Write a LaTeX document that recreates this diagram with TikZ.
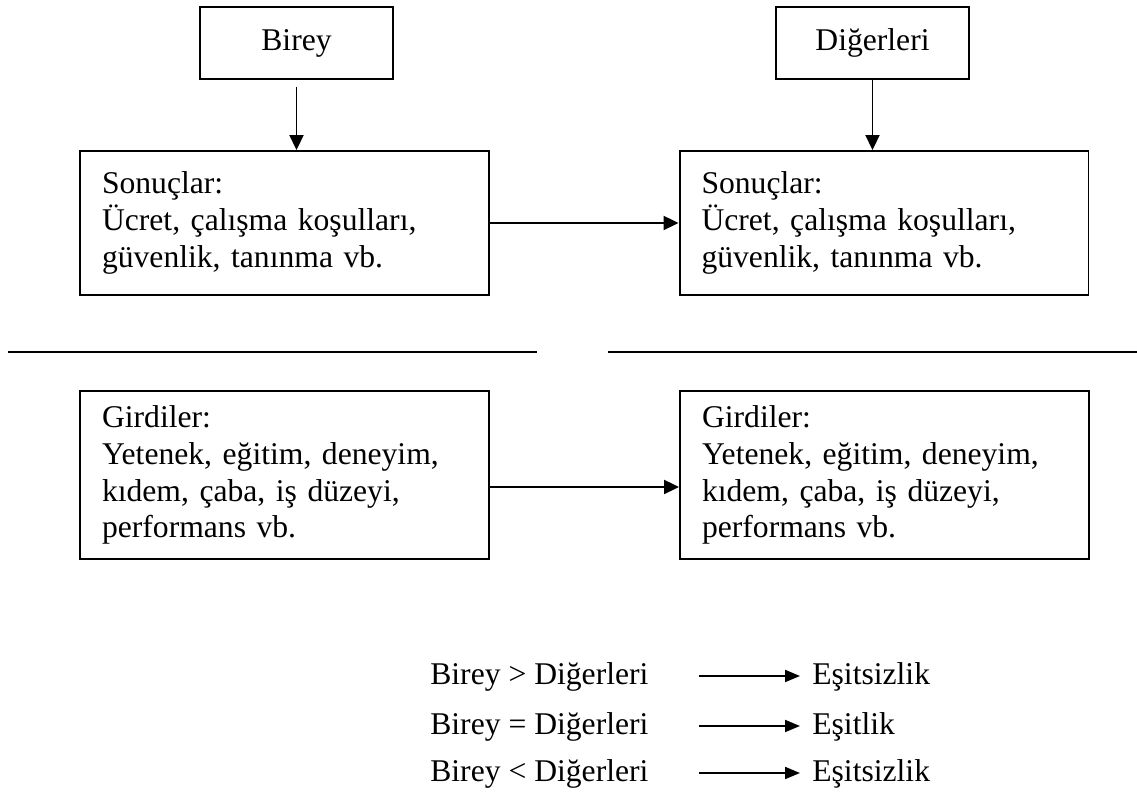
\documentclass[tikz,border=0pt]{standalone}
\usepackage{fontspec}
\setmainfont{Liberation Serif}
\usetikzlibrary{arrows.meta}
\begin{document}
\begin{tikzpicture}[x=0.02cm,y=-0.02cm,
  every node/.style={font=\fontsize{18pt}{21pt}\selectfont},
  kutu/.style={draw,line width=1.1pt,minimum width=3.86cm,minimum height=1.44cm,inner sep=0pt},
  metin/.style={draw,line width=1.1pt,text width=7.3cm,align=left,inner xsep=0.44cm,inner ysep=0pt},
  ok/.style={line width=1.1pt,-{Triangle[length=0.3cm,width=0.28cm]}},
  kucukok/.style={line width=1.1pt,-{Triangle[length=0.3cm,width=0.24cm]}},
  yazi/.style={inner sep=0pt,text height=0.45cm,text depth=0.12cm}]
\useasboundingbox (0,0) rectangle (1137,803);
% ust kutular
\node [kutu] (birey) at (296.5,43) {Birey};
\node [kutu] (diger) at (872.5,43) {Diğerleri};
\node [metin,minimum height=2.88cm] (sonucA) at (284.5,223) {Sonuçlar:\\Ücret, çalışma koşulları,\\güvenlik, tanınma vb.};
\node [metin,minimum height=2.88cm] (sonucB) at (884,223) {Sonuçlar:\\Ücret, çalışma koşulları,\\güvenlik, tanınma vb.};
\draw [ok,shorten <=0.14cm] (birey) -- (birey |- sonucA.north);
\draw [ok] (diger) -- (diger |- sonucB.north);
\draw [ok] (sonucA) -- (sonucB);
% ayirici cizgiler
\draw [line width=1.1pt] (8,352) -- (537,352);
\draw [line width=1.1pt] (608,352) -- (1137,352);
% alt kutular
\node [metin,minimum height=3.36cm] (girdiA) at (284.5,475) {Girdiler:\\Yetenek, eğitim, deneyim,\\kıdem, çaba, iş düzeyi,\\performans vb.};
\node [metin,minimum height=3.36cm] (girdiB) at (884.5,475) {Girdiler:\\Yetenek, eğitim, deneyim,\\kıdem, çaba, iş düzeyi,\\performans vb.};
\draw [ok] ([yshift=-0.24cm]girdiA.east) -- ([yshift=-0.24cm]girdiB.west);
% karsilastirma
\node [yazi,anchor=west] (sol1) at (430,676) {Birey > Diğerleri};
\node [yazi,anchor=west] (sol2) at (430,726) {Birey = Diğerleri};
\node [yazi,anchor=west] (sol3) at (430,773) {Birey < Diğerleri};
\node [yazi,anchor=west] (sag1) at (812,676) {Eşitsizlik};
\node [yazi,anchor=west] (sag2) at (812,726) {Eşitlik};
\node [yazi,anchor=west] (sag3) at (812,773) {Eşitsizlik};
\foreach \i in {1,2,3}
  \draw [kucukok,shorten <=1cm,shorten >=0.24cm] (sol\i.east) -- (sag\i.west);
\end{tikzpicture}
\end{document}
